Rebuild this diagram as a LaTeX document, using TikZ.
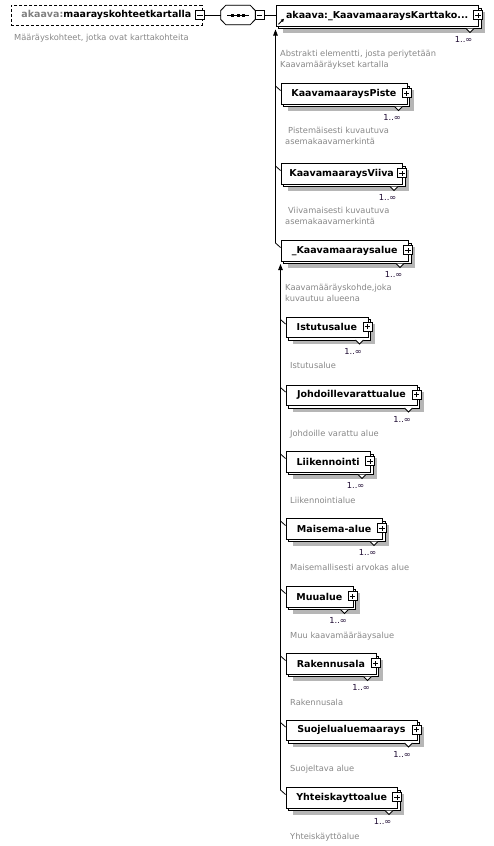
\documentclass[tikz,border=0pt]{standalone}
\usepackage{fontspec}
\setmainfont{DejaVu Sans}
\usetikzlibrary{calc,arrows.meta}

\definecolor{notegray}{RGB}{136,136,136}
\definecolor{prefixgray}{RGB}{128,128,128}
\definecolor{shadowgray}{RGB}{182,182,182}
\definecolor{occcolor}{RGB}{30,10,50}

\newcommand\namefont{\fontsize{9.5pt}{11pt}\selectfont\bfseries}
\newcommand\notefont{\fontsize{8.3pt}{11pt}\selectfont}

\begin{document}
\begin{tikzpicture}[x=1pt,y=-1pt,
  link/.style={line width=0.8pt},
  elem/.style={draw,fill=white,line width=0.8pt,anchor=north west,inner sep=0pt,
    minimum height=20.5pt,font=\namefont},
  backbox/.style={draw,fill=white,line width=0.8pt},
  shade/.style={fill=shadowgray},
  pmbox/.style={draw,fill=white,line width=0.8pt,minimum size=9pt,inner sep=0pt},
  expandbox/.style={pmbox,path picture={
    \draw[line width=0.8pt] ([xshift=-2.7pt]path picture bounding box.center)
      -- ([xshift=2.7pt]path picture bounding box.center);
    \draw[line width=0.8pt] ([yshift=-2.7pt]path picture bounding box.center)
      -- ([yshift=2.7pt]path picture bounding box.center);}},
  collapsebox/.style={pmbox,path picture={
    \draw[line width=0.8pt] ([xshift=-2.7pt]path picture bounding box.center)
      -- ([xshift=2.7pt]path picture bounding box.center);}},
  notch/.style={draw,fill=white,line width=0.8pt},
  occ/.style={font=\notefont,text=occcolor,inner sep=0pt,anchor=base east},
  note/.style={font=\notefont,text=notegray,inner sep=0pt,anchor=north west,align=left,
    execute at begin node=\strut},
  subst/.style={line width=0.8pt,-{Triangle[length=6pt,width=4.5pt]}},
]

\path[use as bounding box,fill=white] (0,0) rectangle (494,846);

%--- root element and sequence ------------------------------------------
\node[elem,dash pattern=on 3pt off 2pt,minimum width=191pt,minimum height=19.5pt]
  (root) at (10.5,5) {\textcolor{prefixgray}{akaava:}maarayskohteetkartalla};
\node[collapsebox] (rootpm) at (200,15) {};
\node[note] (rootnote) at (14,32.3) {Määräyskohteet, jotka ovat karttakohteita};

\node[minimum width=34pt,minimum height=19pt,inner sep=0pt] (seq) at (238,15) {};
\foreach \s/\c/\d in {3/shadowgray/shadowgray,0/white/black}
  \draw[line width=0.8pt,fill=\c,draw=\d,shift={(\s,\s)}]
    ($(seq.west)+(0,-4.5)$) -- ($(seq.north west)+(5,0)$) -- ($(seq.north east)+(-5,0)$)
    -- ($(seq.east)+(0,-4.5)$) -- ($(seq.east)+(0,4.5)$) -- ($(seq.south east)+(-5,0)$)
    -- ($(seq.south west)+(5,0)$) -- ($(seq.west)+(0,4.5)$) -- cycle;
\draw[line width=1pt] ($(seq.center)+(-11,0)$) -- ($(seq.center)+(11,0)$);
\foreach \dx in {-5.5,0,5.5}
  \fill ($(seq.center)+(\dx-1.5,-1.5)$) rectangle ++(3,3);
\node[collapsebox] (seqpm) at (259.5,15) {};
\draw[link] (rootpm.east) -- (seq.west);

%--- head of the substitution group -------------------------------------
\fill[shade] (282.5,12) rectangle (485,32.5);
\draw[backbox] (278.5,8) rectangle (481,28.5);
\draw[notch] (466,28.5) -- (470,32.5) -- (474,28.5);
\node[elem,minimum width=202.5pt] (head) at (275.5,5) {akaava:\_KaavamaaraysKarttako...};
\node[expandbox] (head-pm) at (478,15.25) {};
\node[occ] (head-occ) at (472.5,42.5) {1..∞};
\node[note] (head-note) at (280,50.3) {Abstrakti elementti, josta periytetään\\Kaavamääräykset kartalla};
\draw[line width=0.8pt,-{Triangle[length=3pt,width=3pt]}]
  ($(head.south west)+(3,-2)$) -- ++(5.5,-5.5);
\draw[link] (seqpm.east) -- (seqpm.east -| head.west);
\coordinate (head-base) at ($(head.north west)+(0,24.5)$);

%--- members: id / left / top / right / name / note ---------------------
\foreach \id/\l/\t/\r/\txt/\ann in {
  piste/280.5/83/406.5/KaavamaaraysPiste/{\hspace*{3pt}Pistemäisesti kuvautuva\\asemakaavamerkintä},
  viiva/280.5/163/402/KaavamaaraysViiva/{\hspace*{3pt}Viivamaisesti kuvautuva\\asemakaavamerkintä},
  kalue/280.5/240/408/\_Kaavamaaraysalue/{Kaavamääräyskohde,joka\\kuvautuu alueena},
  istutus/285.5/316.5/367.5/Istutusalue/Istutusalue,
  johdoille/285.5/384.5/416.5/Johdoillevarattualue/Johdoille varattu alue,
  liikenne/285.5/451/370/Liikennointi/Liikennointialue,
  maisema/285.5/518/382/Maisema-alue/Maisemallisesti arvokas alue,
  muu/285.5/586/352.5/Muualue/Muu kaavamääräaysalue,
  rakennus/285.5/653/375.5/Rakennusala/Rakennusala,
  suojelu/285.5/719.5/416.5/Suojelualuemaarays/Suojeltava alue,
  yhteis/285.5/787/397/Yhteiskayttoalue/Yhteiskäyttöalue}{
  \fill[shade] (\l+7,\t+7) rectangle (\r+7,\t+27.5);
  \draw[backbox] (\l+3,\t+3) rectangle (\r+3,\t+23.5);
  \draw[notch] (\r-12,\t+23.5) -- (\r-8,\t+27.5) -- (\r-4,\t+23.5);
  \node[elem,minimum width=\r-\l] (\id) at (\l,\t) {\txt};
  \node[expandbox] (\id-pm) at (\r,\t+10.25) {};
  \node[occ] (\id-occ) at (\r-5.5,\t+37.5) {1..∞};
  \node[note] (\id-note) at (\l+4.5,\t+44.3) {\ann};
  \coordinate (\id-tick) at (\l-5,\t+3);
  \draw[link] (\id-tick) -- ($(\id.north west)+(0,7.5)$);
}

%--- substitution lines -------------------------------------------------
\draw[subst] (kalue-tick) -- (kalue-tick |- head-base);
\draw[subst] (yhteis-tick) -- ($(kalue.north west)+(0,24)$);

\end{tikzpicture}
\end{document}
